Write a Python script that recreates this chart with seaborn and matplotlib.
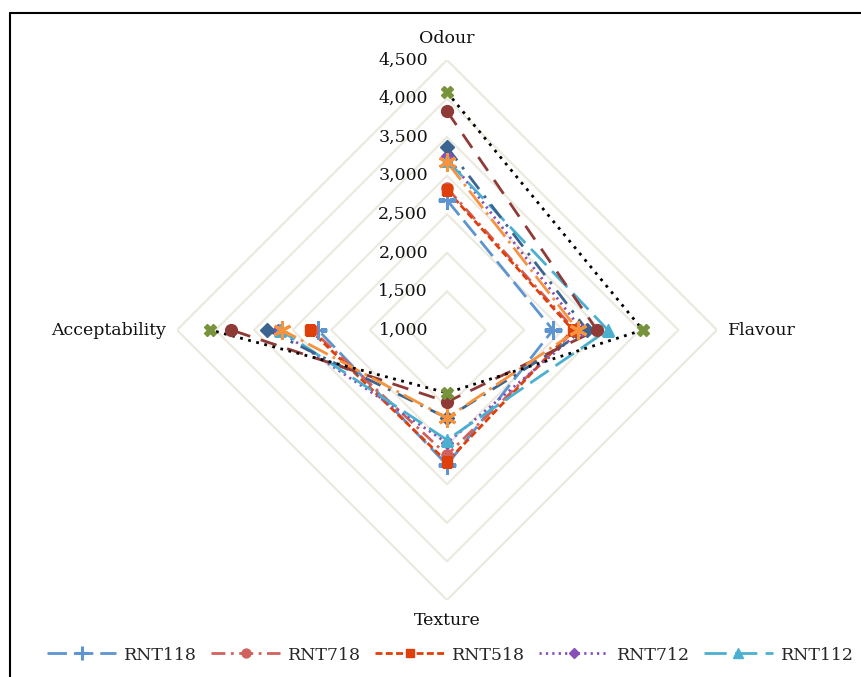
import numpy as np
import pandas as pd
import matplotlib
matplotlib.use("Agg")
import matplotlib.pyplot as plt
import matplotlib.transforms as mtransforms
from matplotlib.lines import Line2D
import seaborn as sns

# Sensory attributes (clockwise from the top)
attributes = ["Odour", "Flavour", "Texture", "Acceptability"]

# Mean scores per sample, in attribute order
rnt118 = [2684, 2373, 2748, 2671]
rnt718 = [2840, 2658, 2619, 2748]
rnt518 = [2813, 2632, 2709, 2774]
rnt712 = [3253, 2748, 2463, 3189]
rnt112 = [3200, 3085, 2425, 3163]
sample_6 = [3370, 2813, 2140, 3331]
sample_7 = [3836, 2943, 1932, 3797]
sample_8 = [3176, 2696, 2140, 3137]
sample_9 = [4083, 3538, 1816, 4069]

series_names = ["RNT118", "RNT718", "RNT518", "RNT712", "RNT112",
                "sample_6", "sample_7", "sample_8", "sample_9"]
series_values = [rnt118, rnt718, rnt518, rnt712, rnt112,
                 sample_6, sample_7, sample_8, sample_9]
legend_names = ["RNT118", "RNT718", "RNT518", "RNT712", "RNT112"]

r_ticks = [1000, 1500, 2000, 2500, 3000, 3500, 4000, 4500]
r_tick_labels = ["1,000", "1,500", "2,000", "2,500", "3,000", "3,500", "4,000", "4,500"]

# Line / marker styling per series
styles = {
    "RNT118": dict(color="#5E94CF", line="#5E94CF", marker="+", ms=13, mew=2.2, dashes=(7, 2.5)),
    "RNT718": dict(color="#D0625E", line="#D0625E", marker="o", ms=8, mew=1, dashes=(5, 2, 1, 2)),
    "RNT518": dict(color="#DF3F0A", line="#DF3F0A", marker="s", ms=7.5, mew=1, dashes=(2.5, 1.2)),
    "RNT712": dict(color="#8650B8", line="#8650B8", marker="D", ms=6.5, mew=1, dashes=(0.8, 1.5)),
    "RNT112": dict(color="#4BB0CF", line="#4BB0CF", marker="^", ms=9, mew=1, dashes=(8, 3)),
    "sample_6": dict(color="#3B6590", line="#3B6590", marker="D", ms=7, mew=1, dashes=(6, 3, 1, 3)),
    "sample_7": dict(color="#8E3A36", line="#8E3A36", marker="o", ms=8.5, mew=1, dashes=(6, 4)),
    "sample_8": dict(color="#F5933E", line="#F5933E", marker=(6, 2, 0), ms=13, mew=2.2, dashes=(8, 2, 1, 2)),
    "sample_9": dict(color="#77933C", line="#000000", marker="X", ms=9, mew=1, dashes=(1, 2)),
}

sns.set_theme(style="white")
plt.rcParams["font.family"] = ["DejaVu Serif"]

W, H = 861, 677
fig = plt.figure(figsize=(W / 100, H / 100), dpi=100)

# Polar axes: centre at (447, 330) px, outer ring 270 px away
cx, cy, rad = 447, 330, 270
ax = fig.add_axes([(cx - rad) / W, (H - cy - rad) / H, 2 * rad / W, 2 * rad / H],
                  projection="polar")
ax.set_theta_zero_location("N")
ax.set_theta_direction(-1)
ax.set_ylim(1000, 4500)
ax.grid(False)
ax.set_xticks([])
ax.set_yticks([])
ax.spines["polar"].set_visible(False)
ax.patch.set_alpha(0)

angles = np.arange(len(attributes)) * 2 * np.pi / len(attributes)
closed_angles = np.append(angles, angles[0])

# Diamond-shaped gridlines
for lvl in r_ticks[1:]:
    ax.plot(closed_angles, [lvl] * len(closed_angles), color="#ECEADF", lw=1.6, zorder=0)

# Data series
for name, vals in zip(series_names, series_values):
    st = styles[name]
    df = pd.DataFrame({"theta": closed_angles, "score": list(vals) + [vals[0]]})
    sns.lineplot(data=df, x="theta", y="score", ax=ax, sort=False,
                 color=st["line"], lw=2.0, dashes=False, zorder=2, legend=False)
    line = ax.lines[-1]
    line.set_dashes(st["dashes"])
    ax.plot(angles, vals, ls="none", marker=st["marker"], ms=st["ms"],
            color=st["color"], mec=st["color"], mew=st["mew"], zorder=3)

# Attribute labels around the chart
label_pos = {"Odour": (4785, "center", "center"),
             "Flavour": (4640, "left", "center"),
             "Texture": (4760, "center", "center"),
             "Acceptability": (4640, "right", "center")}
for ang, attr in zip(angles, attributes):
    r, ha, va = label_pos[attr]
    ax.text(ang, r, attr, ha=ha, va=va, fontsize=12.5, color="#111111", clip_on=False)

# Radial value labels along the vertical axis
off = mtransforms.offset_copy(ax.transData, fig=fig, x=-19, y=0, units="dots")
for v, lab in zip(r_ticks, r_tick_labels):
    ax.text(0, v, lab, transform=off, ha="right", va="center",
            fontsize=12.5, color="#111111", clip_on=False)

# Legend row
handles = []
for name in legend_names:
    st = styles[name]
    h = Line2D([0], [0], color=st["line"], lw=2.0, marker=st["marker"], ms=st["ms"] * 0.8,
               mfc=st["color"], mec=st["color"], mew=st["mew"])
    h.set_dashes(st["dashes"])
    handles.append(h)
fig.legend(handles, legend_names, loc="center left", bbox_to_anchor=(40 / W, 1 - 655 / H),
           ncol=5, frameon=False, fontsize=12.5, handlelength=4.0, handletextpad=0.45,
           columnspacing=0.8, borderaxespad=0)

# Chart-area border (left and top edges)
fig.add_artist(Line2D([9.5 / W, 9.5 / W], [0, 1 - 13 / H], color="black", lw=1.5,
                      transform=fig.transFigure))
fig.add_artist(Line2D([9.5 / W, 1], [1 - 13 / H, 1 - 13 / H], color="black", lw=1.5,
                      transform=fig.transFigure))

fig.savefig("out.png", dpi=100)
